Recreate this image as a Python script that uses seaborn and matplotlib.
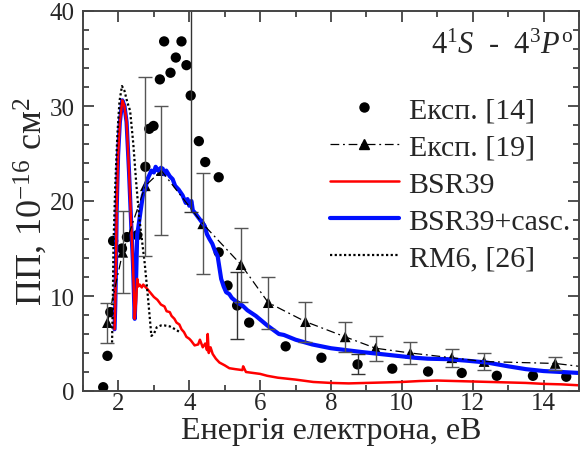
import numpy as np
import pandas as pd
import matplotlib
matplotlib.use("Agg")
import matplotlib.pyplot as plt
from matplotlib.lines import Line2D
from matplotlib.ticker import MultipleLocator
import seaborn as sns

# ---------------- data ----------------
# Exp. [14] (filled circles)
exp14_x = [1.57, 1.69, 1.77, 1.85, 2.10, 2.24, 2.53, 2.76, 2.87, 2.99, 3.17, 3.29, 3.47, 3.62,
           3.78, 3.92, 4.04, 4.27, 4.45, 4.83, 4.83, 5.08, 5.35, 5.69, 6.72, 7.73, 8.75, 9.73,
           10.74, 11.69, 12.68, 13.70, 14.64]
exp14_y = [0.4, 3.7, 8.3, 15.8, 15.0, 16.2, 16.4, 23.6, 27.6, 27.9, 32.8, 36.8, 33.5, 35.1,
           36.8, 34.3, 31.1, 26.3, 24.1, 22.5, 14.6, 11.1, 9.0, 7.2, 4.7, 3.5, 2.8, 2.35,
           2.05, 1.9, 1.6, 1.6, 1.5]
# error bars attached to some Exp. [14] points
exp14_err_x = [4.04, 5.35, 8.75]
exp14_err_y = [31.1, 9.0, 2.8]
exp14_err = [12.3, 3.5, 1.05]

# Exp. [19] (triangles with error bars)
exp19_x = [1.69, 2.12, 2.76, 3.21, 4.38, 5.46, 6.23, 7.28, 8.40, 9.26, 10.24, 11.41, 12.32, 14.33]
exp19_y = [7.2, 14.6, 21.6, 23.2, 17.6, 13.3, 9.3, 7.3, 5.7, 4.5, 4.0, 3.5, 3.1, 2.9]
exp19_lo = [2.1, 4.3, 7.4, 6.8, 5.3, 3.9, 2.75, 2.1, 1.55, 1.3, 1.15, 0.95, 0.9, 0.7]
exp19_hi = [2.1, 4.3, 11.5, 6.8, 5.3, 3.9, 2.75, 2.1, 1.55, 1.3, 1.15, 0.95, 0.9, 0.7]
exp19_tail_x = [15.0]
exp19_tail_y = [2.6]

# BSR39 (red)
bsr_x = [1.89, 1.91, 1.93, 1.95, 1.99, 2.04, 2.11, 2.17, 2.23, 2.30, 2.37, 2.41, 2.46, 2.50,
         2.53, 2.56, 2.60, 2.66, 2.70, 2.75, 2.80, 2.89, 3.00, 3.10, 3.20, 3.30, 3.36, 3.45,
         3.50, 3.58, 3.64, 3.72, 3.78, 3.85, 3.92, 4.00, 4.05, 4.15, 4.25, 4.30, 4.38, 4.45,
         4.50, 4.52, 4.55, 4.60, 4.66, 4.75, 4.85, 5.00, 5.13, 5.30, 5.50, 5.52, 5.60, 5.80,
         6.00, 6.20, 6.50, 7.00, 7.50, 8.00, 8.50, 9.00, 9.50, 10.00, 10.50, 11.00, 11.50,
         12.00, 12.50, 13.00, 13.50, 14.00, 14.50, 15.00]
bsr_y = [6.5, 9.0, 13.0, 19.0, 24.8, 28.3, 30.6, 30.0, 28.3, 23.0, 16.7, 13.5, 7.6, 9.5,
         11.8, 11.0, 11.2, 10.9, 11.2, 11.0, 10.8, 10.4, 9.9, 9.6, 9.1, 8.9, 8.4, 8.3,
         7.9, 7.6, 7.2, 7.0, 6.5, 6.2, 5.7, 5.5, 5.3, 4.8, 4.9, 5.4, 4.6, 5.0,
         4.3, 6.0, 4.0, 4.6, 3.9, 3.4, 3.0, 2.7, 2.4, 2.3, 2.2, 2.6, 2.0, 1.9,
         1.8, 1.6, 1.4, 1.2, 0.95, 0.85, 0.8, 0.85, 0.9, 0.95, 1.05, 1.1, 1.05,
         1.0, 0.95, 0.9, 0.85, 0.75, 0.7, 0.6]

# BSR39 + cascades (blue)
casc_x = [1.89, 1.91, 1.93, 1.95, 1.99, 2.04, 2.11, 2.17, 2.23, 2.30, 2.37, 2.41, 2.46, 2.50,
          2.53, 2.56, 2.62, 2.69, 2.75, 2.82, 2.93, 3.00, 3.05, 3.12, 3.20, 3.25, 3.30, 3.35,
          3.45, 3.53, 3.60, 3.70, 3.81, 3.90, 3.95, 4.00, 4.06, 4.10, 4.15, 4.25, 4.35, 4.43,
          4.50, 4.57, 4.65, 4.72, 4.80, 4.85, 4.90, 4.97, 5.04, 5.13, 5.20, 5.36, 5.50, 5.64,
          5.88, 6.20, 6.53, 6.67, 7.00, 7.47, 8.00, 8.87, 9.50, 10.36, 10.73, 11.30, 11.80,
          12.40, 13.00, 13.50, 14.00, 14.50, 15.00]
casc_y = [6.5, 9.0, 13.0, 19.0, 24.8, 28.3, 30.6, 30.0, 28.3, 23.0, 16.7, 13.5, 7.6, 12.0,
          16.5, 17.2, 18.8, 20.6, 21.2, 22.3, 23.2, 23.0, 23.6, 23.2, 23.5, 23.4, 22.8, 23.2,
          22.6, 22.3, 21.6, 21.2, 20.6, 19.8, 20.2, 19.5, 20.0, 19.0, 18.8, 18.3, 17.8, 17.4,
          16.5, 16.0, 15.5, 14.8, 14.2, 13.0, 11.8, 11.0, 10.4, 10.2, 9.8, 9.3, 9.0, 8.5,
          7.9, 6.9, 6.0, 5.9, 5.4, 4.9, 4.5, 4.1, 3.85, 3.5, 3.4, 3.35, 3.2,
          3.0, 2.6, 2.3, 2.1, 2.0, 1.9]

# RM6, [26] (dotted)
rm6_x = [1.82, 1.84, 1.86, 1.91, 1.97, 2.03, 2.10, 2.17, 2.25, 2.33, 2.42, 2.50, 2.58, 2.66,
         2.74, 2.83, 2.93, 3.00, 3.08, 3.20, 3.30, 3.45, 3.60, 3.73]
rm6_y = [5.1, 9.0, 15.3, 21.6, 27.0, 30.5, 32.1, 31.6, 30.4, 29.5, 26.0, 22.0, 18.5, 16.0,
         13.5, 10.0, 5.8, 6.0, 6.7, 6.9, 6.9, 6.8, 6.5, 6.2]

xticks = [2, 4, 6, 8, 10, 12, 14]
yticks = [0, 10, 20, 30, 40]

# ---------------- style ----------------
sns.set_style("ticks")
plt.rcParams['font.family'] = ['Liberation Serif', 'DejaVu Serif']
plt.rcParams['mathtext.fontset'] = 'custom'
plt.rcParams['mathtext.rm'] = 'Liberation Serif'
plt.rcParams['mathtext.it'] = 'Liberation Serif:italic'

fig = plt.figure(figsize=(5.81, 4.52), dpi=100)
ax = fig.add_axes([83/581, 1-392/452, (579-83)/581, (392-12)/452])

# curves
sns.lineplot(x=casc_x, y=casc_y, ax=ax, color='#0010ff', lw=3.0, sort=False, estimator=None)
sns.lineplot(x=bsr_x, y=bsr_y, ax=ax, color='#ff0000', lw=1.8, sort=False, estimator=None)
sns.lineplot(x=rm6_x, y=rm6_y, ax=ax, color='black', lw=1.6, sort=False, estimator=None,
             linestyle=(0, (1, 1.1)))
sns.lineplot(x=exp19_x + exp19_tail_x, y=exp19_y + exp19_tail_y, ax=ax, color='black', lw=0.9,
             sort=False, estimator=None, linestyle=(0, (7, 3, 1.5, 3)))

# error bars
ax.errorbar(exp19_x, exp19_y, yerr=[exp19_lo, exp19_hi], fmt='none', ecolor='#555555',
            elinewidth=1.0, capsize=5, capthick=1.0)
ax.errorbar(exp14_err_x, exp14_err_y, yerr=exp14_err, fmt='none', ecolor='#333333',
            elinewidth=1.0, capsize=5, capthick=1.0)

# markers
sns.scatterplot(x=exp19_x, y=exp19_y, ax=ax, marker='^', color='black', s=60, edgecolor='none')
sns.scatterplot(x=exp14_x, y=exp14_y, ax=ax, marker='o', color='black', s=55, edgecolor='none')

ax.set_xlim(1, 15)
ax.set_ylim(0, 40)
ax.set_xticks(xticks)
ax.set_yticks(yticks)
ax.xaxis.set_minor_locator(MultipleLocator(1))
ax.yaxis.set_minor_locator(MultipleLocator(2))
ax.tick_params(which='both', direction='in', top=True, right=True, color='#333333',
               width=1.2, labelsize=18)
ax.tick_params(axis='x', which='both', pad=1)
ax.tick_params(axis='y', which='both', pad=6)
ax.tick_params(which='major', length=8)
ax.tick_params(which='minor', length=4)
for s in ax.spines.values():
    s.set_color('#444444')
    s.set_linewidth(1.4)

ax.set_xlabel('Енергія електрона, еВ', fontsize=23, labelpad=1)
ax.set_ylabel('ПП, 10$^{-16}$ см$^2$', fontsize=26, labelpad=0)

ax.text(0.988, 0.91, r'4$^1\mathit{S}$  -  4$^3\mathit{P}^{\mathrm{o}}$', transform=ax.transAxes,
        ha='right', va='center', fontsize=22)

handles = [
    Line2D([], [], ls='none', marker='o', color='black', ms=6.5),
    Line2D([], [], ls=(0, (7, 3, 1.5, 3)), lw=0.9, marker='^', color='black', ms=7),
    Line2D([], [], color='#ff0000', lw=1.8),
    Line2D([], [], color='#0010ff', lw=3.0),
    Line2D([], [], color='black', lw=1.6, ls=(0, (1, 1.1))),
]
labels = ['Експ. [14]', 'Експ. [19]', 'BSR39', 'BSR39+casc.', 'RM6, [26]']
ax.legend(handles, labels, loc='upper left', bbox_to_anchor=(0.498, 0.775), frameon=False,
          fontsize=21.5, handlelength=2.3, handletextpad=0.33, labelspacing=0.34,
          borderpad=0, borderaxespad=0)

fig.savefig('out.png', dpi=100)
